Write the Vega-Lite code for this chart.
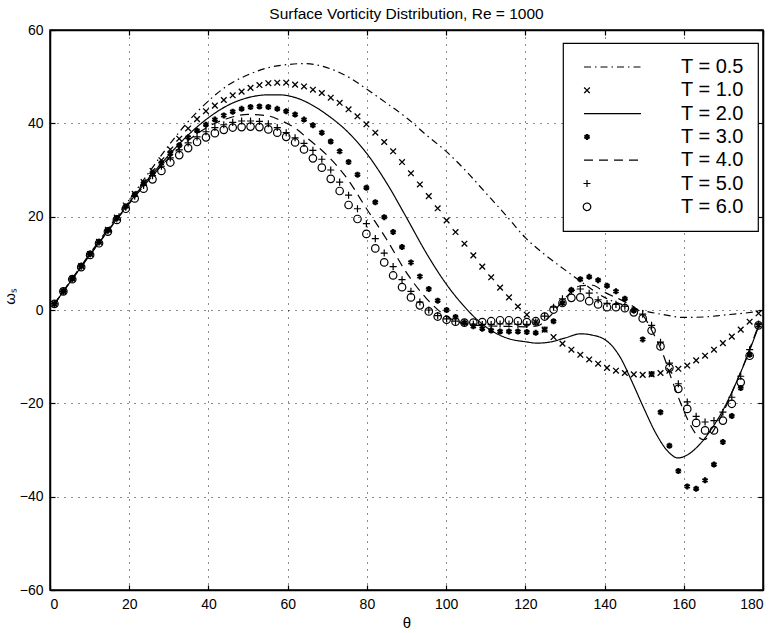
{
  "$schema": "https://vega.github.io/schema/vega-lite/v6.json",
  "width": 713,
  "height": 560,
  "autosize": {"type": "none"},
  "padding": {"left": 50, "top": 30, "right": 18, "bottom": 43},
  "background": "white",
  "title": {"text": "Surface Vorticity Distribution, Re = 1000", "font": "Liberation Sans", "fontSize": 15.5, "fontWeight": "normal", "color": "black", "offset": 1},
  "datasets": {
    "lines": [
      {"s":"T05","t":1.125,"w":1.3},{"s":"T05","t":5,"w":6},{"s":"T05","t":10,"w":12},{"s":"T05","t":15,"w":17.8},{"s":"T05","t":20,"w":23.6},{"s":"T05","t":25,"w":29.5},{"s":"T05","t":30,"w":35.3},{"s":"T05","t":35,"w":40.5},{"s":"T05","t":40,"w":44.8},{"s":"T05","t":45,"w":48.2},{"s":"T05","t":50,"w":50.4},{"s":"T05","t":55,"w":51.9},{"s":"T05","t":60,"w":52.6},{"s":"T05","t":64,"w":52.8},{"s":"T05","t":68,"w":52.4},{"s":"T05","t":72,"w":51.3},{"s":"T05","t":76,"w":49.6},{"s":"T05","t":80,"w":47.3},{"s":"T05","t":85,"w":44.3},{"s":"T05","t":90,"w":41.2},{"s":"T05","t":95,"w":37.5},{"s":"T05","t":100,"w":34},{"s":"T05","t":105,"w":29.8},{"s":"T05","t":110,"w":25.1},{"s":"T05","t":115,"w":20.4},{"s":"T05","t":120,"w":15.5},{"s":"T05","t":125,"w":11.8},{"s":"T05","t":130,"w":8.6},{"s":"T05","t":135,"w":5.5},{"s":"T05","t":140,"w":2.7},{"s":"T05","t":145,"w":1},{"s":"T05","t":150,"w":-0.2},{"s":"T05","t":155,"w":-1},{"s":"T05","t":160,"w":-1.6},{"s":"T05","t":165,"w":-1.5},{"s":"T05","t":170,"w":-1.1},{"s":"T05","t":175,"w":-0.7},{"s":"T05","t":179,"w":-0.3},
      {"s":"T2","t":1.125,"w":1.3},{"s":"T2","t":5,"w":5.9},{"s":"T2","t":10,"w":11.7},{"s":"T2","t":15,"w":17.4},{"s":"T2","t":20,"w":23},{"s":"T2","t":25,"w":28.3},{"s":"T2","t":30,"w":33.2},{"s":"T2","t":35,"w":37.6},{"s":"T2","t":40,"w":41.2},{"s":"T2","t":45,"w":43.9},{"s":"T2","t":50,"w":45.5},{"s":"T2","t":55,"w":46.1},{"s":"T2","t":58,"w":46.1},{"s":"T2","t":62,"w":45.5},{"s":"T2","t":66,"w":44},{"s":"T2","t":70,"w":41.8},{"s":"T2","t":75,"w":38.3},{"s":"T2","t":80,"w":33.5},{"s":"T2","t":85,"w":27.2},{"s":"T2","t":90,"w":19.8},{"s":"T2","t":95,"w":12.2},{"s":"T2","t":100,"w":5.6},{"s":"T2","t":104,"w":1.3},{"s":"T2","t":108,"w":-2.2},{"s":"T2","t":112,"w":-4.7},{"s":"T2","t":116,"w":-6.2},{"s":"T2","t":120,"w":-6.8},{"s":"T2","t":123,"w":-7.1},{"s":"T2","t":126,"w":-6.9},{"s":"T2","t":130,"w":-6},{"s":"T2","t":134,"w":-5.1},{"s":"T2","t":137,"w":-5.4},{"s":"T2","t":140,"w":-6.3},{"s":"T2","t":142,"w":-7.8},{"s":"T2","t":144,"w":-10.2},{"s":"T2","t":147,"w":-15.5},{"s":"T2","t":150,"w":-21.2},{"s":"T2","t":153,"w":-26.5},{"s":"T2","t":156,"w":-30.3},{"s":"T2","t":158.5,"w":-31.7},{"s":"T2","t":161,"w":-31},{"s":"T2","t":164,"w":-28.8},{"s":"T2","t":167,"w":-25.5},{"s":"T2","t":170,"w":-21.3},{"s":"T2","t":173,"w":-16},{"s":"T2","t":176,"w":-10},{"s":"T2","t":178.9,"w":-3.5},
      {"s":"T4","t":1.125,"w":1.3},{"s":"T4","t":5,"w":5.9},{"s":"T4","t":10,"w":11.7},{"s":"T4","t":15,"w":17.3},{"s":"T4","t":20,"w":22.8},{"s":"T4","t":25,"w":27.9},{"s":"T4","t":30,"w":32.6},{"s":"T4","t":35,"w":36.4},{"s":"T4","t":40,"w":39.3},{"s":"T4","t":45,"w":41.1},{"s":"T4","t":50,"w":41.9},{"s":"T4","t":55,"w":41.6},{"s":"T4","t":58,"w":40.7},{"s":"T4","t":62,"w":38.9},{"s":"T4","t":65,"w":36.8},{"s":"T4","t":70,"w":33.1},{"s":"T4","t":75,"w":28.2},{"s":"T4","t":80,"w":21.6},{"s":"T4","t":85,"w":15.1},{"s":"T4","t":90,"w":8},{"s":"T4","t":95,"w":2.5},{"s":"T4","t":100,"w":-1.3},{"s":"T4","t":105,"w":-3},{"s":"T4","t":110,"w":-3.4},{"s":"T4","t":115,"w":-3.5},{"s":"T4","t":120,"w":-3.6},{"s":"T4","t":123,"w":-3.4},{"s":"T4","t":126,"w":-1.5},{"s":"T4","t":130,"w":2.5},{"s":"T4","t":134,"w":5.2},{"s":"T4","t":137,"w":5.3},{"s":"T4","t":140,"w":3.8},{"s":"T4","t":145,"w":1.8},{"s":"T4","t":148,"w":0.3},{"s":"T4","t":150,"w":-1.5},{"s":"T4","t":152,"w":-4.5},{"s":"T4","t":155,"w":-10},{"s":"T4","t":157,"w":-15},{"s":"T4","t":159,"w":-19.5},{"s":"T4","t":161,"w":-23.5},{"s":"T4","t":163,"w":-26.5},{"s":"T4","t":165,"w":-27.8},{"s":"T4","t":167,"w":-26.5},{"s":"T4","t":169,"w":-23.5},{"s":"T4","t":171,"w":-20},{"s":"T4","t":173,"w":-16},{"s":"T4","t":175,"w":-12},{"s":"T4","t":177,"w":-7.5},{"s":"T4","t":178.9,"w":-3.2}
    ],
    "marks": [
      {"t":1.125,"T1":1.3,"T3":1.3,"T5":1.3,"T6":1.3},
      {"t":3.375,"T1":4,"T3":4,"T5":4,"T6":4},
      {"t":5.625,"T1":6.7,"T3":6.7,"T5":6.7,"T6":6.6},
      {"t":7.875,"T1":9.4,"T3":9.4,"T5":9.4,"T6":9.2},
      {"t":10.125,"T1":12,"T3":12,"T5":12,"T6":11.8},
      {"t":12.375,"T1":14.6,"T3":14.6,"T5":14.5,"T6":14.3},
      {"t":14.625,"T1":17.2,"T3":17.1,"T5":17,"T6":16.8},
      {"t":16.875,"T1":19.8,"T3":19.7,"T5":19.5,"T6":19.3},
      {"t":19.125,"T1":22.4,"T3":22.2,"T5":22,"T6":21.7},
      {"t":21.375,"T1":24.9,"T3":24.7,"T5":24.4,"T6":23.9},
      {"t":23.625,"T1":27.4,"T3":27.1,"T5":26.7,"T6":26},
      {"t":25.875,"T1":29.8,"T3":29.4,"T5":28.8,"T6":28},
      {"t":28.125,"T1":32.1,"T3":31.5,"T5":30.8,"T6":29.8},
      {"t":30.375,"T1":34.4,"T3":33.5,"T5":32.6,"T6":31.6},
      {"t":32.625,"T1":36.7,"T3":35.3,"T5":34.3,"T6":33.2},
      {"t":34.875,"T1":38.9,"T3":37,"T5":35.8,"T6":34.7},
      {"t":37.125,"T1":40.9,"T3":38.4,"T5":37.1,"T6":36},
      {"t":39.375,"T1":42.6,"T3":39.7,"T5":38.2,"T6":37},
      {"t":41.625,"T1":43.8,"T3":40.8,"T5":39.1,"T6":37.9},
      {"t":43.875,"T1":45,"T3":41.7,"T5":39.7,"T6":38.6},
      {"t":46.125,"T1":46,"T3":42.5,"T5":40.2,"T6":39.1},
      {"t":48.375,"T1":46.8,"T3":43.1,"T5":40.5,"T6":39.2},
      {"t":50.625,"T1":47.6,"T3":43.5,"T5":40.5,"T6":39.3},
      {"t":52.875,"T1":48.2,"T3":43.6,"T5":40.4,"T6":39.2},
      {"t":55.125,"T1":48.6,"T3":43.5,"T5":39.9,"T6":38.7},
      {"t":57.375,"T1":48.7,"T3":43.1,"T5":39.1,"T6":38},
      {"t":59.625,"T1":48.7,"T3":42.6,"T5":38,"T6":37.1},
      {"t":61.875,"T1":48.3,"T3":41.9,"T5":36.9,"T6":35.9},
      {"t":64.125,"T1":47.9,"T3":40.8,"T5":35.7,"T6":34.4},
      {"t":66.375,"T1":47.2,"T3":39.6,"T5":34.2,"T6":32.5},
      {"t":68.625,"T1":46.5,"T3":38,"T5":32.3,"T6":30.5},
      {"t":70.875,"T1":45.5,"T3":36.1,"T5":30,"T6":28.1},
      {"t":73.125,"T1":44.4,"T3":34,"T5":27.4,"T6":25.5},
      {"t":75.375,"T1":43,"T3":31.7,"T5":24.6,"T6":22.5},
      {"t":77.625,"T1":41.5,"T3":29,"T5":21.7,"T6":19.5},
      {"t":79.875,"T1":39.8,"T3":26.2,"T5":18.5,"T6":16.3},
      {"t":82.125,"T1":38,"T3":23.1,"T5":15.3,"T6":13.2},
      {"t":84.375,"T1":36,"T3":19.9,"T5":12.2,"T6":10.2},
      {"t":86.625,"T1":34,"T3":16.7,"T5":9.3,"T6":7.4},
      {"t":88.875,"T1":31.7,"T3":13.5,"T5":6.5,"T6":4.9},
      {"t":91.125,"T1":29.3,"T3":10.2,"T5":4,"T6":2.7},
      {"t":93.375,"T1":26.9,"T3":7.2,"T5":1.7,"T6":1},
      {"t":95.625,"T1":24.4,"T3":4.5,"T5":0,"T6":-0.3},
      {"t":97.875,"T1":21.8,"T3":2,"T5":-1.2,"T6":-1.4},
      {"t":100.125,"T1":19.2,"T3":0,"T5":-1.9,"T6":-2.1},
      {"t":102.375,"T1":16.7,"T3":-1.5,"T5":-2.4,"T6":-2.5},
      {"t":104.625,"T1":14.2,"T3":-2.7,"T5":-2.8,"T6":-2.7},
      {"t":106.875,"T1":11.7,"T3":-3.5,"T5":-3,"T6":-2.7},
      {"t":109.125,"T1":9.3,"T3":-4,"T5":-3.1,"T6":-2.6},
      {"t":111.375,"T1":7,"T3":-4.4,"T5":-3.1,"T6":-2.4},
      {"t":113.625,"T1":4.8,"T3":-4.6,"T5":-3,"T6":-2.2},
      {"t":115.875,"T1":2.7,"T3":-4.6,"T5":-3,"T6":-2.2},
      {"t":118.125,"T1":0.75,"T3":-4.6,"T5":-3.1,"T6":-2.4},
      {"t":120.375,"T1":-1,"T3":-4.7,"T5":-3.1,"T6":-2.6},
      {"t":122.625,"T1":-2.6,"T3":-4.9,"T5":-2.6,"T6":-2.4},
      {"t":124.875,"T1":-4.2,"T3":-4.2,"T5":-1.3,"T6":-1.4},
      {"t":127.125,"T1":-5.8,"T3":-2.4,"T5":0.6,"T6":0.1},
      {"t":129.375,"T1":-7.2,"T3":1.5,"T5":2.4,"T6":1.5},
      {"t":131.625,"T1":-8.5,"T3":4.3,"T5":4.2,"T6":2.6},
      {"t":133.875,"T1":-9.6,"T3":6.6,"T5":4.5,"T6":2.7},
      {"t":136.125,"T1":-10.6,"T3":7.1,"T5":3.6,"T6":1.9},
      {"t":138.375,"T1":-11.5,"T3":6.4,"T5":2.2,"T6":1.2},
      {"t":140.625,"T1":-12.4,"T3":5.2,"T5":1.4,"T6":0.6},
      {"t":142.875,"T1":-13,"T3":4,"T5":1.2,"T6":0.6},
      {"t":145.125,"T1":-13.5,"T3":2.4,"T5":0.8,"T6":0.4},
      {"t":147.375,"T1":-13.8,"T3":-0.1,"T5":0,"T6":-0.5},
      {"t":149.625,"T1":-13.9,"T3":-6.3,"T5":-0.9,"T6":-1.8},
      {"t":151.875,"T1":-13.8,"T3":-13.7,"T5":-3.3,"T6":-4.4},
      {"t":154.125,"T1":-13.5,"T3":-21.9,"T5":-6.9,"T6":-7.8},
      {"t":156.375,"T1":-13,"T3":-29.1,"T5":-11.4,"T6":-12.4},
      {"t":158.625,"T1":-12.6,"T3":-34.5,"T5":-15.8,"T6":-16.9},
      {"t":160.875,"T1":-11.9,"T3":-37.8,"T5":-19.7,"T6":-21.2},
      {"t":163.125,"T1":-10.8,"T3":-38.3,"T5":-22.8,"T6":-24.2},
      {"t":165.375,"T1":-9.8,"T3":-36.5,"T5":-24,"T6":-25.8},
      {"t":167.625,"T1":-8.5,"T3":-33.1,"T5":-23.7,"T6":-25.8},
      {"t":169.875,"T1":-7.1,"T3":-28.3,"T5":-21.9,"T6":-23.7},
      {"t":172.125,"T1":-5.7,"T3":-22.7,"T5":-18.7,"T6":-20.1},
      {"t":174.375,"T1":-4.2,"T3":-16.7,"T5":-14.2,"T6":-15.5},
      {"t":176.625,"T1":-2.5,"T3":-9.6,"T5":-8.5,"T6":-9.8},
      {"t":178.875,"T1":-0.7,"T3":-3.3,"T5":-3,"T6":-3.3}
    ]
  },
  "config": {
    "view": {"stroke": "black", "strokeWidth": 1.5},
    "axis": {
      "labelFont": "Liberation Sans", "labelFontSize": 14, "labelColor": "black",
      "titleFont": "Liberation Sans", "titleFontSize": 15, "titleFontWeight": "normal", "titleColor": "black",
      "domainColor": "black", "domainWidth": 1.5, "tickColor": "black", "tickWidth": 1.2, "tickSize": -5, "labelPadding": 12,
      "gridColor": "black", "gridDash": [1, 6], "gridOpacity": 0.9, "gridWidth": 1
    },
    "legend": {
      "fillColor": "white", "strokeColor": "black", "strokeWidth": 1.2, "padding": 14,
      "labelFont": "Liberation Sans", "labelFontSize": 20, "labelColor": "black", "labelOffset": 84,
      "rowPadding": 3.3, "symbolStrokeColor": "black", "symbolFillColor": "transparent"
    }
  },
  "resolve": {"axis": {"x": "independent", "y": "independent"}},
  "layer": [
    {
      "data": {"name": "lines"},
      "mark": {"type": "line", "color": "black", "strokeWidth": 1.2, "interpolate": "monotone"},
      "encoding": {
        "x": {"field": "t", "type": "quantitative", "scale": {"domain": [0, 180], "nice": false},
              "axis": {"values": [0, 20, 40, 60, 80, 100, 120, 140, 160, 180], "grid": true, "title": "θ", "titlePadding": 4}},
        "y": {"field": "w", "type": "quantitative", "scale": {"domain": [-60, 60], "nice": false},
              "axis": {"values": [-60, -40, -20, 0, 20, 40, 60], "grid": true, "title": "ωₛ", "titlePadding": 2, "titleY": 266}},
        "strokeDash": {"field": "s", "type": "nominal",
          "scale": {"type": "ordinal", "domain": ["T05", "T1", "T2", "T3", "T4", "T5", "T6"], "range": [[7, 4, 1.5, 4], [1, 0], [1, 0], [1, 0], [9, 6], [1, 0], [1, 0]]},
          "legend": {"title": null, "orient": "none", "legendX": 513, "legendY": 13, "labelExpr": "'T = ' + (datum.label == 'T05' ? '0.5' : substring(datum.label, 1) + '.0')"}}
      }
    },
    {
      "data": {"name": "marks"},
      "transform": [{"fold": ["T1", "T3", "T5", "T6"], "as": ["s", "w"]}],
      "mark": {"type": "point", "filled": false, "color": "black", "opacity": 1},
      "encoding": {
        "x": {"field": "t", "type": "quantitative", "axis": null},
        "y": {"field": "w", "type": "quantitative", "axis": null},
        "shape": {"field": "s", "type": "nominal",
          "scale": {"type": "ordinal", "domain": ["T05", "T1", "T2", "T3", "T4", "T5", "T6"], "range": ["M-0.75,0L13.5,0", "M-1,-1L1,1M-1,1L1,-1", "M-0.75,0L13.5,0", "M0,-1L0,1M-0.87,-0.5L0.87,0.5M-0.87,0.5L0.87,-0.5", "M-0.75,0L13.5,0", "M-1,0L1,0M0,-1L0,1", "circle"]},
          "legend": {"title": null, "orient": "none", "legendX": 513, "legendY": 13, "labelExpr": "'T = ' + (datum.label == 'T05' ? '0.5' : substring(datum.label, 1) + '.0')"}},
        "size": {"field": "s", "type": "nominal",
          "scale": {"type": "ordinal", "domain": ["T05", "T1", "T2", "T3", "T4", "T5", "T6"], "range": [64, 32, 64, 36, 64, 50, 56]},
          "legend": {"title": null, "orient": "none", "legendX": 513, "legendY": 13, "labelExpr": "'T = ' + (datum.label == 'T05' ? '0.5' : substring(datum.label, 1) + '.0')"}},
        "strokeWidth": {"field": "s", "type": "nominal",
          "scale": {"type": "ordinal", "domain": ["T05", "T1", "T2", "T3", "T4", "T5", "T6"], "range": [1.2, 1.3, 1.2, 2.2, 1.2, 1.2, 1.2]},
          "legend": {"title": null, "orient": "none", "legendX": 513, "legendY": 13, "labelExpr": "'T = ' + (datum.label == 'T05' ? '0.5' : substring(datum.label, 1) + '.0')"}}
      }
    },
    {
      "data": {"name": "lines"},
      "mark": {"type": "point", "opacity": 0},
      "encoding": {
        "x": {"field": "t", "type": "quantitative",
              "axis": {"orient": "top", "values": [0, 20, 40, 60, 80, 100, 120, 140, 160, 180], "labels": false, "grid": false, "title": null}},
        "y": {"field": "w", "type": "quantitative",
              "axis": {"orient": "right", "values": [-60, -40, -20, 0, 20, 40, 60], "labels": false, "grid": false, "title": null}}
      }
    }
  ]
}
